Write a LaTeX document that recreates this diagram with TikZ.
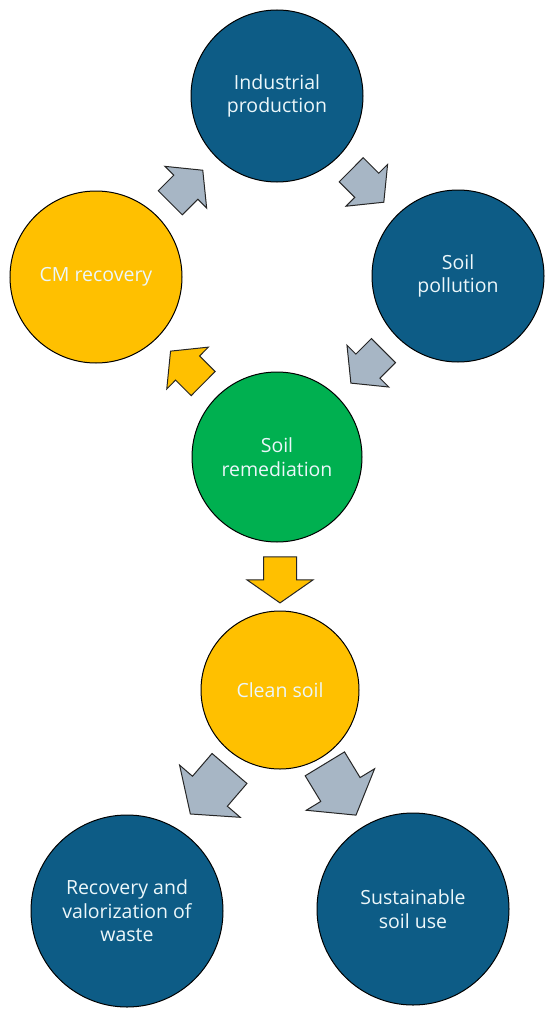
\documentclass[tikz,border=0pt]{standalone}
\usepackage{fontspec}
\setmainfont{Open Sans}
\definecolor{cblue}{RGB}{13,92,134}
\definecolor{cyellow}{RGB}{255,192,0}
\definecolor{cgreen}{RGB}{0,176,80}
\definecolor{cgray}{RGB}{167,182,197}
\definecolor{ctext}{RGB}{236,247,250}
\tikzset{
  bubble/.style={circle, draw=black, line width=1pt, inner sep=0pt, align=center,
    text=ctext, font=\fontsize{19.5}{23.5}\selectfont},
  pics/barrow/.style args={#1/#2/#3/#4}{code={
    \path[pic actions] (-#1/2,-#3/2) -- (#1/2-#4,-#3/2) -- (#1/2-#4,-#2/2) -- (#1/2,0)
      -- (#1/2-#4,#2/2) -- (#1/2-#4,#3/2) -- (-#1/2,#3/2) -- cycle;
  }},
  arr/.style={draw=black!85, line width=1pt, line join=miter, sloped, allow upside down},
  grayarr/.style={arr, fill=cgray},
  yelarr/.style={arr, fill=cyellow},
}
\begin{document}
\begin{tikzpicture}[x=1pt,y=-1pt]
\useasboundingbox[fill=white] (0,0) rectangle (550,1014);
\node[bubble, fill=cblue, minimum size=172pt] (ip) at (277,96) {Industrial\\production};
\node[bubble, fill=cblue, minimum size=172pt] (sp) at (458,276) {Soil\\pollution};
\node[bubble, fill=cyellow, minimum size=172pt] (cm) at (96,277) {CM recovery};
\node[bubble, fill=cgreen, minimum size=170pt] (sr) at (277,457) {Soil\\remediation};
\node[bubble, fill=cyellow, minimum size=158pt] (cs) at (280,690) {Clean soil};
\node[bubble, fill=cblue, minimum size=192pt] (rv) at (127,911) {Recovery and\\valorization of\\waste};
\node[bubble, fill=cblue, minimum size=192pt] (su) at (413,909) {Sustainable\\soil use};

\path (cm) -- pic[grayarr, pos=0.5] {barrow=46/59/34/24} (ip);
\path (ip) -- pic[grayarr, pos=0.5] {barrow=46/59/34/24} (sp);
\path (sp) -- pic[grayarr, pos=0.5] {barrow=46/59/34/24} (sr);
\path (sr) -- pic[yelarr, pos=0.5] {barrow=46/59/34/24} (cm);
\path (cs.north |- sr.south) -- pic[yelarr, pos=0.55] {barrow=46/66/33/23} (cs.north);
\path (cs) -- pic[grayarr, pos=0.47, rotate=-6] {barrow=60/80/46/30} (rv);
\path (cs) -- pic[grayarr, pos=0.46] {barrow=60/80/46/30} (su);
\end{tikzpicture}
\end{document}
